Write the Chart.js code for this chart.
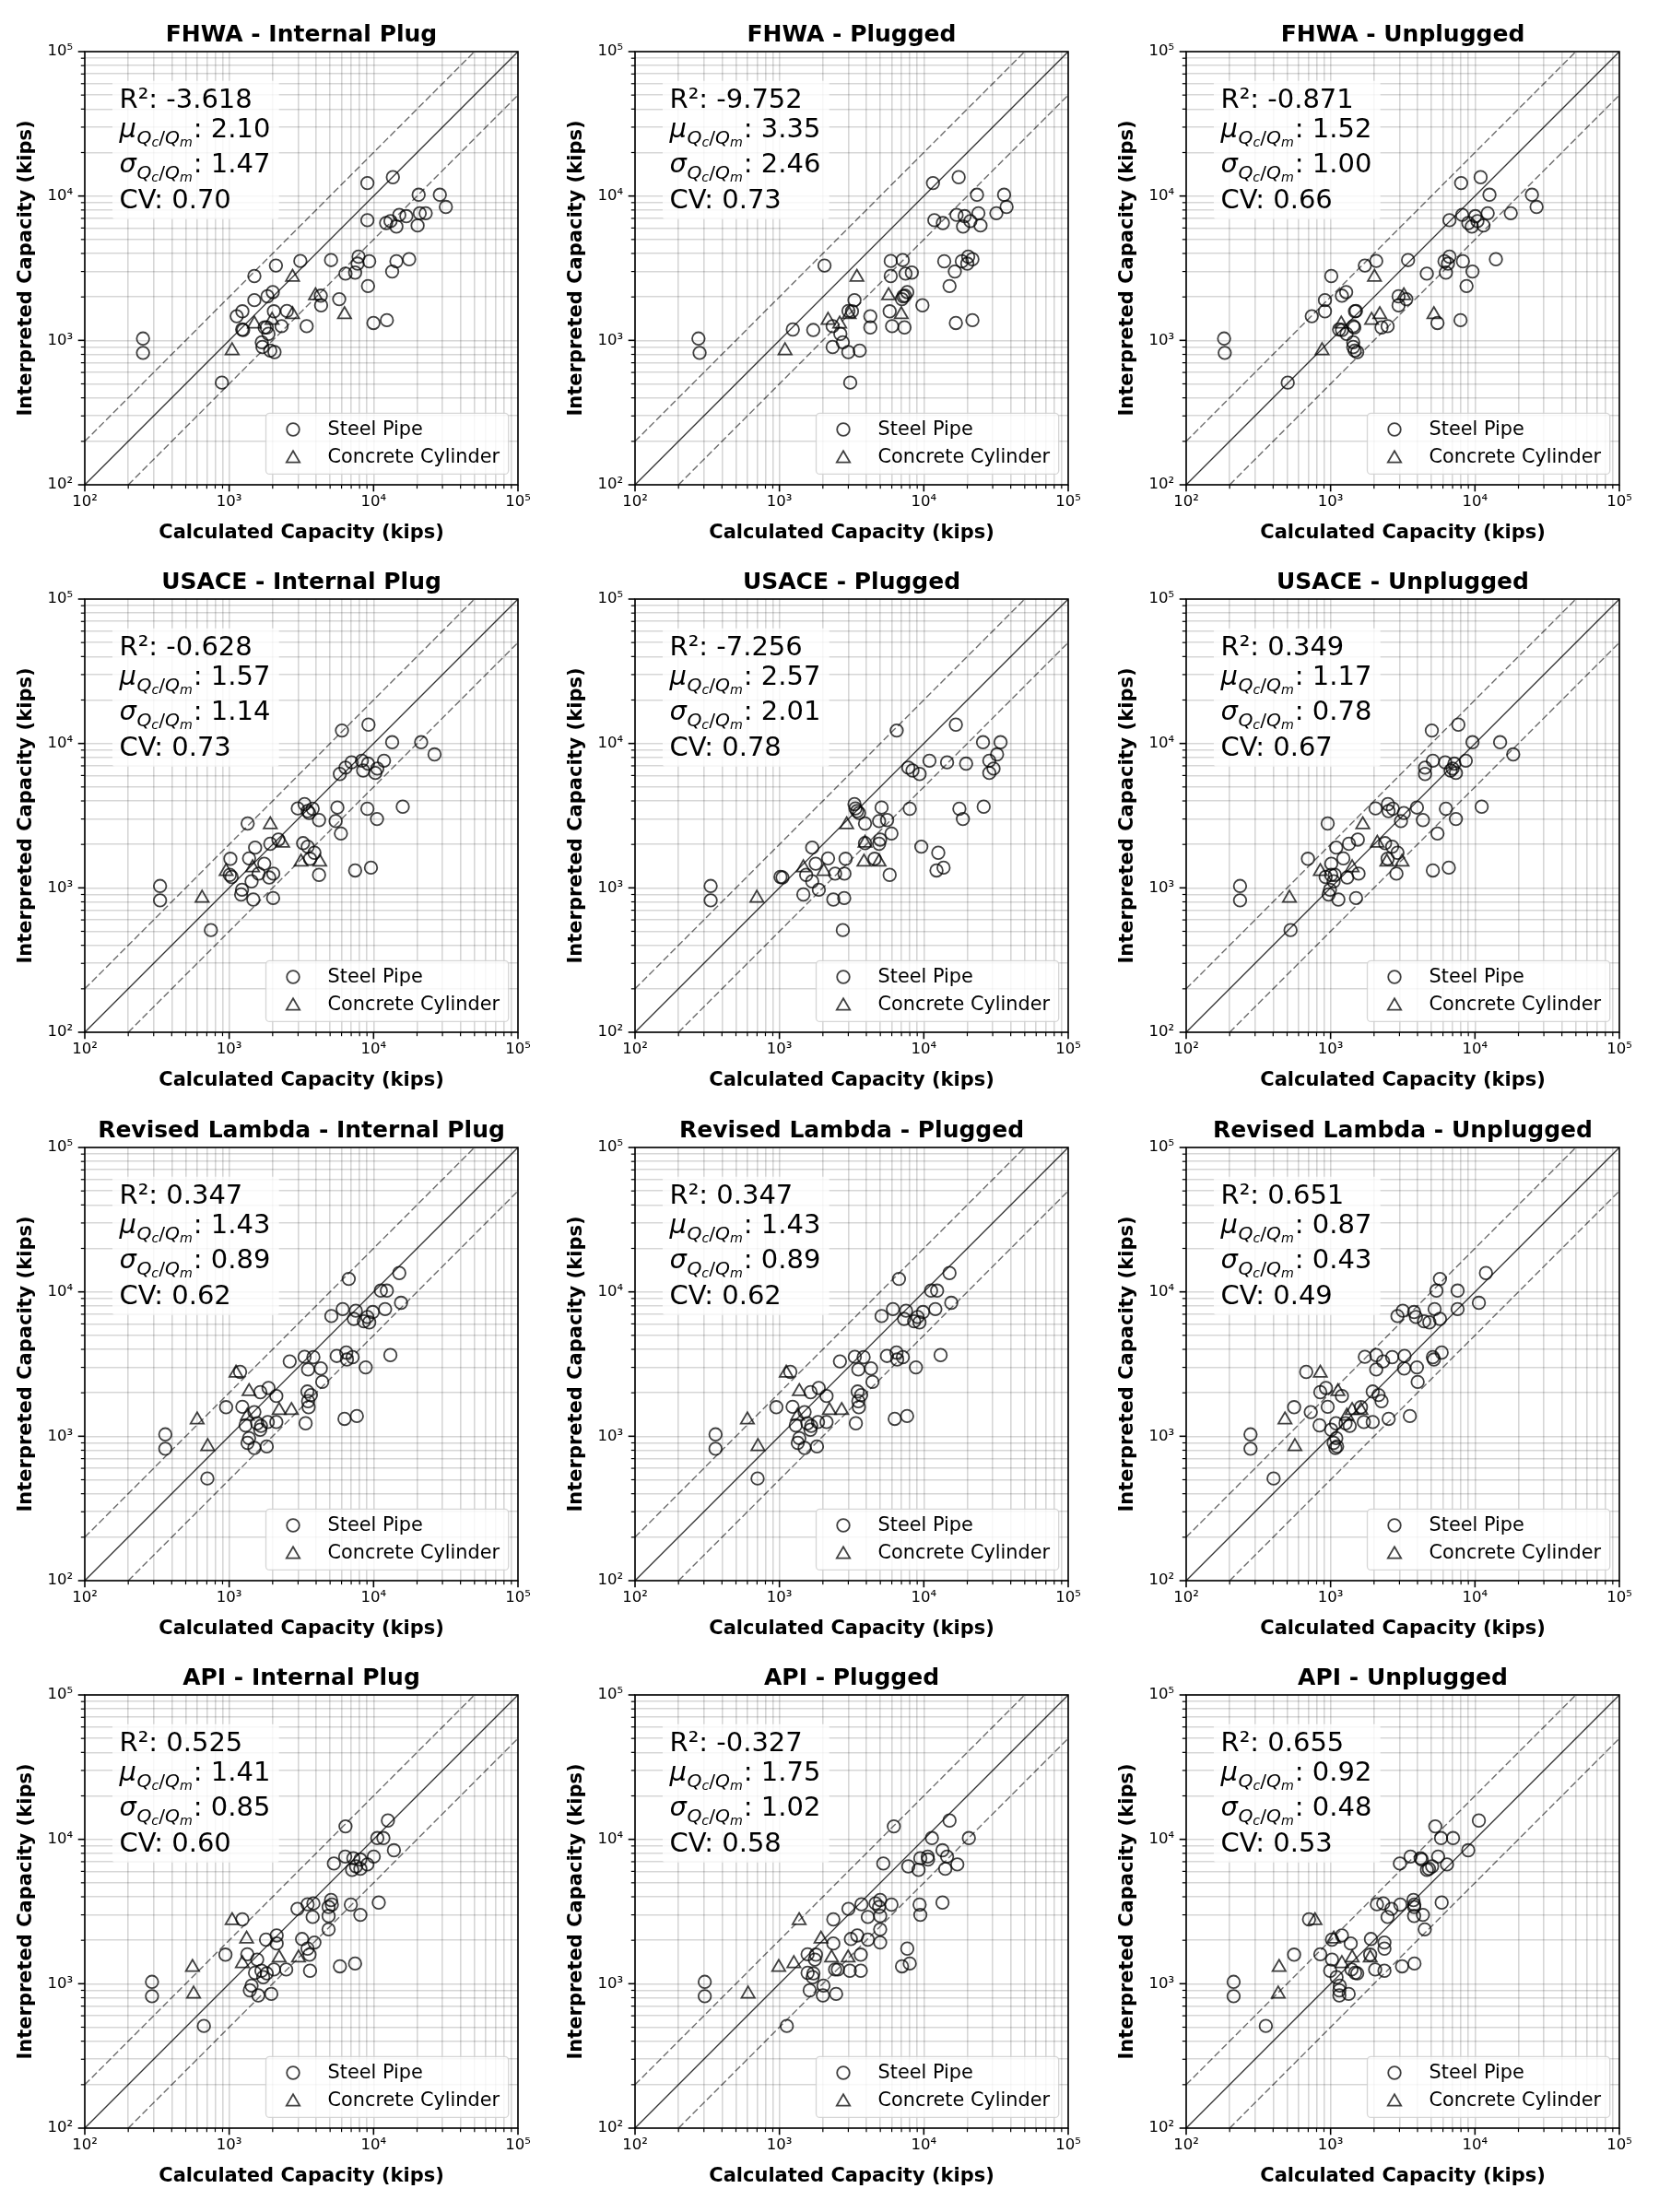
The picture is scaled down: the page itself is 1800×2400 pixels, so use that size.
<!DOCTYPE html>
<html>
<head>
<meta charset="utf-8">
<script src="https://cdn.jsdelivr.net/npm/chart.js@4.4.1/dist/chart.umd.min.js"></script>
<style>
html,body{margin:0;padding:0;background:#fff;}
#page{position:relative;width:1800px;height:2400px;background:#fff;overflow:hidden;}
#page canvas{position:absolute;}
</style>
</head>
<body>
<div id="page"></div>
<script>
// ---------------- DATA ----------------
// Interpreted (measured) capacity, kips — shared by every panel
const interpretedSteel = [1030, 820, 510, 12300, 13500, 10200, 10200, 8400, 6800, 6500, 6150, 7400, 7250, 6250, 7600, 7600,
  3300, 2790, 3550, 3600, 3800, 3400, 3530, 2900, 2950, 2380, 3000, 3530, 3650,
  2040, 1930, 1750, 1900, 2020, 2160, 1590, 1590, 1470, 1600,
  1190, 1180, 1230, 1110, 1255, 1255, 970, 900, 850, 830,
  1320, 1380, 1230, 6700];
const interpretedConcrete = [850, 1300, 1380, 2740, 1510, 2040, 1510];

// Calculated capacity, kips — Steel Pipe (same order as interpretedSteel)
const fhwaInternal = [253,253,890,9060,13600,20520,28770,31660, 9060,12220,14390,15060,16860,20180,20880,22960,
  2107,1494,3110,5075,7870,7750,9330,6390,7450,9150,13450,14390,17630,
  4310,5780,4330,1494,1841,2004,2040,1234,1128,2510,
  1230,1250,1820,1870,2306,3440,1682,1700,1925,2060, 9980,12360,1760,13100];
const fhwaPlugged = [275,280,3093,11570,17430,23350,35970,37430, 11830,13550,18700,16860,19180,24700,23880,31790,
  2052,5900,5900,7140,20300,20000,13850,7470,8260,15070,16400,18330,21700,
  7400,7050,9780,3310,7200,7680,3180,5800,4260,3007,
  1238,1715,4260,2642,2336,6030,2748,2336,3598,3000, 16670,21700,7350,21000];
const fhwaUnplugged = [183,185,505,8020,10940,12600,24800,26700, 6660,8990,9510,8160,10050,11450,12250,17700,
  1728,1011,2070,3440,6660,6500,6150,4640,6290,8740,9610,8250,13960,
  1198,3346,2957,914,2957,1282,914,1476,741,1500,
  1145,1200,1460,1290,1435,2483,1435,1435,1470,1530, 5500,7940,2254,10400];
const usaceInternal = [332,332,747,6040,9220,13450,21350,26430, 6390,8470,5840,7040,9150,10280,8300,11810,
  3580,1343,2987,5615,3327,3500,9060,5460,4190,5940,10560,3786,15920,
  3250,3500,3893,1512,1926,2193,1019,3630,1750,1373,
  1040,1893,1010,1429,1600,2020,1227,1210,2015,1469, 7450,9590,4190,10610];
const usacePlugged = [334,334,2748,6490,16670,25700,34000,32150, 7810,8350,9350,14490,19630,28420,10940,28420,
  3560,3915,3360,5100,3310,3450,7990,4900,5570,5970,18650,17630,25980,
  3915,9610,12590,1686,4900,4985,2872,4560,1783,2172,
  1017,1050,1532,1686,2430,2820,1875,1465,2810,2362, 12240,13700,5800,30400];
const usaceUnplugged = [236,236,528,5025,7670,9610,14930,18400, 4510,6780,4510,6220,7200,7380,5110,8640,
  3216,955,2048,3963,2495,2520,6290,3073,4360,5500,7380,2700,11130,
  2385,2670,2906,1095,1341,1544,697,2483,1011,1226,
  924,1304,1070,1050,1562,2858,990,970,1501,1132, 5110,6590,1010,7000];
const lambdaInternal = [361,361,706,6730,15060,11230,12360,15490, 5100,7300,9330,7530,9870,8570,6110,12020,
  2625,1190,3327,5555,6470,6540,7160,3520,4310,4410,8820,3830,13070,
  3480,3680,3520,2120,1644,1872,952,3550,1494,1234,
  1298,1660,1563,1640,1850,2120,1373,1340,1820,1494, 6290,7660,3383,9060];
const lambdaPlugged = [361,361,706,6730,15060,11230,12360,15490, 5100,7300,9330,7530,9870,8570,6110,12020,
  2625,1190,3327,5555,6470,6540,7160,3520,4310,4410,8820,3830,13070,
  3480,3680,3520,2120,1644,1872,952,3550,1494,1234,
  1298,1660,1563,1640,1850,2120,1373,1340,1820,1494, 6290,7660,3383,9060];
const lambdaUnplugged = [279,279,403,5720,11910,5405,7580,10640, 2905,5720,4830,3162,3787,4440,5255,7580,
  2310,678,1728,3252,5880,5195,2670,2070,3230,4010,3963,5110,2070,
  1958,2150,2254,1198,849,929,559,1624,729,955,
  839,1357,1090,1010,1700,1958,1095,1050,1110,1080, 2525,3540,1270,3900];
const apiInternal = [292,292,668,6390,12570,10610,11690,13830, 5310,7560,7100,7240,8100,8100,6360,10030,
  2972,1234,3490,3830,5075,4880,5140,3786,4880,4880,8100,6960,10860,
  3197,3893,3490,2132,1799,2132,942,3600,1563,1335,
  1510,1820,1673,1720,2040,2483,1429,1390,1958,1590, 5845,7445,3630,9060];
const apiPlugged = [304,304,1125,6200,15070,11380,20510,13470, 5240,7810,9190,9460,10700,14080,10640,14490,
  3007,2362,3700,4630,4985,4900,5970,4095,4985,4985,9460,9350,13470,
  3126,4985,7680,2362,4095,3460,1790,3660,1760,1567,
  1567,1720,3074,1700,2430,2540,2018,1620,2470,2000, 7060,7990,3660,17060];
const apiUnplugged = [213,213,356,5310,10640,5820,7050,8980, 3020,5050,4650,4200,4280,4800,3580,5560,
  2640,709,2094,2317,3748,3790,3040,2481,3790,4490,4360,3800,5880,
  1903,2360,2360,1379,1023,1198,559,1880,1023,849,
  1480,1530,994,1100,1396,2036,1158,1150,1334,1150, 3126,3810,2360,6400];

// Calculated capacity, kips — Concrete Cylinder (same order as interpretedConcrete)
const fhwaInternalC   = [1048, 1494, 1981, 2746, 2746, 3961, 6290];
const fhwaPluggedC    = [1094, 2614, 2172, 3440, 3040, 5700, 6980];
const fhwaUnpluggedC  = [873, 1185, 1924, 2013, 2191, 3216, 5195];
const usaceInternalC  = [649, 952, 1453, 1926, 3143, 2345, 4238];
const usacePluggedC   = [698, 2029, 1465, 2923, 3850, 3915, 4900];
const usaceUnpluggedC = [519, 849, 1411, 1671, 2453, 2106, 3126];
const lambdaInternalC = [710, 600, 1335, 1115, 2218, 1373, 2700];
const lambdaPluggedC  = [710, 600, 1335, 1115, 2218, 1373, 2700];
const lambdaUnpluggedC= [566, 483, 1297, 849, 1410, 1125, 1624];
const apiInternalC    = [567, 557, 1234, 1048, 2218, 1320, 3022];
const apiPluggedC     = [607, 989, 1259, 1370, 2296, 1940, 2990];
const apiUnpluggedC   = [434, 440, 1198, 780, 1411, 1052, 1882];

const panelTitles = ['FHWA - Internal Plug','FHWA - Plugged','FHWA - Unplugged',
  'USACE - Internal Plug','USACE - Plugged','USACE - Unplugged',
  'Revised Lambda - Internal Plug','Revised Lambda - Plugged','Revised Lambda - Unplugged',
  'API - Internal Plug','API - Plugged','API - Unplugged'];
const r2Values    = [-3.618, -9.752, -0.871, -0.628, -7.256, 0.349, 0.347, 0.347, 0.651, 0.525, -0.327, 0.655];
const muValues    = [2.10, 3.35, 1.52, 1.57, 2.57, 1.17, 1.43, 1.43, 0.87, 1.41, 1.75, 0.92];
const sigmaValues = [1.47, 2.46, 1.00, 1.14, 2.01, 0.78, 0.89, 0.89, 0.43, 0.85, 1.02, 0.48];
const cvValues    = [0.70, 0.73, 0.66, 0.73, 0.78, 0.67, 0.62, 0.62, 0.49, 0.60, 0.58, 0.53];

const seriesLabels = ['Steel Pipe', 'Concrete Cylinder'];
const xAxisTitle = 'Calculated Capacity (kips)';
const yAxisTitle = 'Interpreted Capacity (kips)';
const axisMin = 100, axisMax = 100000;
const boundRatio = 2;
const majorTicks = [100, 1000, 10000, 100000];
const tickLabels = ['10\u00B2', '10\u00B3', '10\u2074', '10\u2075'];
const minorMultipliers = [2, 3, 4, 5, 6, 7, 8, 9];

// ---------------- RENDERING ----------------
const steelByPanel = [fhwaInternal, fhwaPlugged, fhwaUnplugged, usaceInternal, usacePlugged, usaceUnplugged,
  lambdaInternal, lambdaPlugged, lambdaUnplugged, apiInternal, apiPlugged, apiUnplugged];
const concreteByPanel = [fhwaInternalC, fhwaPluggedC, fhwaUnpluggedC, usaceInternalC, usacePluggedC, usaceUnpluggedC,
  lambdaInternalC, lambdaPluggedC, lambdaUnpluggedC, apiInternalC, apiPluggedC, apiUnpluggedC];

const FAMILY = '"DejaVu Sans", "Liberation Sans", sans-serif';
Chart.defaults.font.family = FAMILY;

const tickValues = [];
majorTicks.forEach((m, k) => {
  tickValues.push(m);
  if (k < majorTicks.length - 1) minorMultipliers.forEach(f => tickValues.push(m * f));
});
tickValues.sort((a, b) => a - b);

const markerColor = 'rgba(0,0,0,0.75)';
const gridColor = 'rgba(0,0,0,0.16)';

const colLeft = [0, 597, 1195];
const rowTop = [0, 594, 1189, 1783];

function drawMarker(ctx, style, x, y) {
  ctx.save();
  ctx.strokeStyle = markerColor;
  ctx.lineWidth = 1.8;
  ctx.beginPath();
  if (style === 'circle') {
    ctx.arc(x, y, 6.8, 0, Math.PI * 2);
  } else {
    const r = 8.3;
    ctx.moveTo(x, y - r);
    ctx.lineTo(x + r * Math.sin(2 * Math.PI / 3), y - r * Math.cos(2 * Math.PI / 3));
    ctx.lineTo(x + r * Math.sin(4 * Math.PI / 3), y - r * Math.cos(4 * Math.PI / 3));
    ctx.closePath();
  }
  ctx.stroke();
  ctx.restore();
}

function drawMathLine(ctx, x, base, sym, valueText) {
  const F = 29, S = F * 0.7, SS = S * 0.7;
  let cx = x;
  ctx.font = `italic ${F}px ${FAMILY}`;
  ctx.fillText(sym, cx, base); cx += ctx.measureText(sym).width + 0.5;
  const sb = base + 6.5, ssb = sb + 3.5;
  const parts = [['Q', `italic ${S}px ${FAMILY}`, sb], ['c', `italic ${SS}px ${FAMILY}`, ssb],
                 ['/', `${S}px ${FAMILY}`, sb], ['Q', `italic ${S}px ${FAMILY}`, sb],
                 ['m', `italic ${SS}px ${FAMILY}`, ssb]];
  parts.forEach(([t, f, b]) => { ctx.font = f; ctx.fillText(t, cx, b); cx += ctx.measureText(t).width; });
  ctx.font = `${F}px ${FAMILY}`;
  ctx.fillText(': ' + valueText, cx + 1, base);
}

const decorPlugin = {
  id: 'decor',
  afterDatasetsDraw(chart) {
    const {ctx, chartArea: a, scales} = chart;
    const p = chart.options.plugins.decor;
    ctx.save();
    // axes frame
    ctx.strokeStyle = '#000';
    ctx.lineWidth = 1.6;
    ctx.strokeRect(a.left, a.top, a.right - a.left, a.bottom - a.top);
    // tick marks (outward, left & bottom)
    scales.x.ticks.forEach(t => {
      const px = scales.x.getPixelForValue(t.value);
      const len = t.major ? 7.3 : 4.2;
      ctx.lineWidth = t.major ? 1.6 : 1.2;
      ctx.beginPath(); ctx.moveTo(px, a.bottom); ctx.lineTo(px, a.bottom + len); ctx.stroke();
    });
    scales.y.ticks.forEach(t => {
      const py = scales.y.getPixelForValue(t.value);
      const len = t.major ? 7.3 : 4.2;
      ctx.lineWidth = t.major ? 1.6 : 1.2;
      ctx.beginPath(); ctx.moveTo(a.left, py); ctx.lineTo(a.left - len, py); ctx.stroke();
    });
    // title
    ctx.fillStyle = '#000';
    ctx.font = `bold 25px ${FAMILY}`;
    ctx.textAlign = 'center';
    ctx.textBaseline = 'alphabetic';
    ctx.fillText(p.title, (a.left + a.right) / 2, a.top - 11);
    // stats box
    ctx.fillStyle = 'rgba(255,255,255,0.8)';
    ctx.beginPath();
    ctx.roundRect(a.left + 30, a.top + 31.8, 180.7, 150, 3);
    ctx.fill();
    ctx.fillStyle = '#000';
    ctx.textAlign = 'left';
    const tx = a.left + 37.5;
    ctx.font = `29px ${FAMILY}`;
    ctx.fillText('R\u00B2: ' + p.r2.toFixed(3), tx, a.top + 60.5);
    drawMathLine(ctx, tx, a.top + 93, '\u03BC', p.mu.toFixed(2));
    drawMathLine(ctx, tx, a.top + 131, '\u03C3', p.sigma.toFixed(2));
    ctx.font = `29px ${FAMILY}`;
    ctx.fillText('CV: ' + p.cv.toFixed(2), tx, a.top + 169.7);
    // legend
    const lw = 263.2, lh = 66;
    const lx = a.right - 10.3 - lw, ly = a.bottom - 11.6 - lh;
    ctx.beginPath();
    ctx.roundRect(lx, ly, lw, lh, 4);
    ctx.fillStyle = 'rgba(255,255,255,0.8)';
    ctx.fill();
    ctx.strokeStyle = 'rgba(204,204,204,0.8)';
    ctx.lineWidth = 1.3;
    ctx.stroke();
    const styles = ['circle', 'triangle'];
    ctx.font = `20.8px ${FAMILY}`;
    ctx.textBaseline = 'middle';
    chart.data.datasets.slice(0, 2).forEach((ds, k) => {
      const ry = ly + 17.6 + k * 30;
      drawMarker(ctx, styles[k], lx + 29.5, ry + (k === 1 ? 1.5 : 0));
      ctx.fillStyle = '#000';
      ctx.fillText(ds.label, lx + 67.1, ry + 1);
    });
    ctx.restore();
  }
};

const page = document.getElementById('page');

for (let i = 0; i < 12; i++) {
  const row = Math.floor(i / 3), col = i % 3;
  const canvas = document.createElement('canvas');
  canvas.width = 600; canvas.height = 600;
  canvas.style.width = '600px'; canvas.style.height = '600px';
  canvas.style.left = colLeft[col] + 'px';
  canvas.style.top = rowTop[row] + 'px';
  page.appendChild(canvas);

  const steelPts = steelByPanel[i].map((x, k) => ({x: x, y: interpretedSteel[k]}));
  const concretePts = concreteByPanel[i].map((x, k) => ({x: x, y: interpretedConcrete[k]}));

  const tickCallback = (v) => { const k = majorTicks.indexOf(v); return k >= 0 ? tickLabels[k] : ''; };
  const setTicks = (s) => { s.ticks = tickValues.map(v => ({value: v, major: majorTicks.includes(v)})); };

  new Chart(canvas.getContext('2d'), {
    type: 'scatter',
    data: {
      datasets: [
        {label: seriesLabels[0], data: steelPts, pointStyle: 'circle', pointRadius: 6.8, pointBorderWidth: 1.8,
         borderColor: markerColor, backgroundColor: 'rgba(0,0,0,0)', pointBackgroundColor: 'rgba(0,0,0,0)', order: 1},
        {label: seriesLabels[1], data: concretePts, pointStyle: 'triangle', pointRadius: 8.3, pointBorderWidth: 1.8,
         borderColor: markerColor, backgroundColor: 'rgba(0,0,0,0)', pointBackgroundColor: 'rgba(0,0,0,0)', order: 2},
        {type: 'line', label: '1:1', data: [{x: axisMin, y: axisMin}, {x: axisMax, y: axisMax}], showLine: true,
         borderColor: 'rgba(0,0,0,0.8)', borderWidth: 1.3, pointRadius: 0, fill: false, tension: 0, order: 3},
        {type: 'line', label: 'upper', data: [{x: axisMin, y: axisMin * boundRatio}, {x: axisMax / boundRatio, y: axisMax}], showLine: true,
         borderColor: 'rgba(0,0,0,0.58)', borderWidth: 1.4, borderDash: [7.5, 3.4], pointRadius: 0, fill: false, tension: 0, order: 4},
        {type: 'line', label: 'lower', data: [{x: axisMin * boundRatio, y: axisMin}, {x: axisMax, y: axisMax / boundRatio}], showLine: true,
         borderColor: 'rgba(0,0,0,0.58)', borderWidth: 1.4, borderDash: [7.5, 3.4], pointRadius: 0, fill: false, tension: 0, order: 5}
      ]
    },
    options: {
      responsive: false,
      maintainAspectRatio: false,
      animation: false,
      devicePixelRatio: 1,
      events: [],
      layout: {padding: {top: 56, right: 38, left: 0, bottom: 0}},
      plugins: {
        legend: {display: false},
        tooltip: {enabled: false},
        title: {display: false},
        decor: {title: panelTitles[i], r2: r2Values[i], mu: muValues[i], sigma: sigmaValues[i], cv: cvValues[i]}
      },
      scales: {
        x: {
          type: 'logarithmic', position: 'bottom', min: axisMin, max: axisMax,
          afterBuildTicks: setTicks,
          afterFit: (s) => { s.height = 74; },
          ticks: {autoSkip: false, maxRotation: 0, minRotation: 0, padding: 2, color: '#000',
                  font: {family: FAMILY, size: 16.5}, callback: tickCallback},
          grid: {color: gridColor, lineWidth: 1.6, drawTicks: true, tickLength: 7, tickColor: 'rgba(0,0,0,0)'},
          border: {display: false},
          title: {display: true, text: xAxisTitle, color: '#000', font: {family: FAMILY, size: 21, weight: 'bold'},
                  padding: {top: 0, bottom: 9}}
        },
        y: {
          type: 'logarithmic', position: 'left', min: axisMin, max: axisMax,
          afterBuildTicks: setTicks,
          afterFit: (s) => { s.width = 92; },
          ticks: {autoSkip: false, padding: 6, color: '#000',
                  font: {family: FAMILY, size: 16.5}, callback: tickCallback},
          grid: {color: gridColor, lineWidth: 1.6, drawTicks: true, tickLength: 7, tickColor: 'rgba(0,0,0,0)'},
          border: {display: false},
          title: {display: true, text: yAxisTitle, color: '#000', font: {family: FAMILY, size: 21, weight: 'bold'},
                  padding: {top: 16, bottom: 0}}
        }
      }
    },
    plugins: [decorPlugin]
  });
}
</script>
</body>
</html>
